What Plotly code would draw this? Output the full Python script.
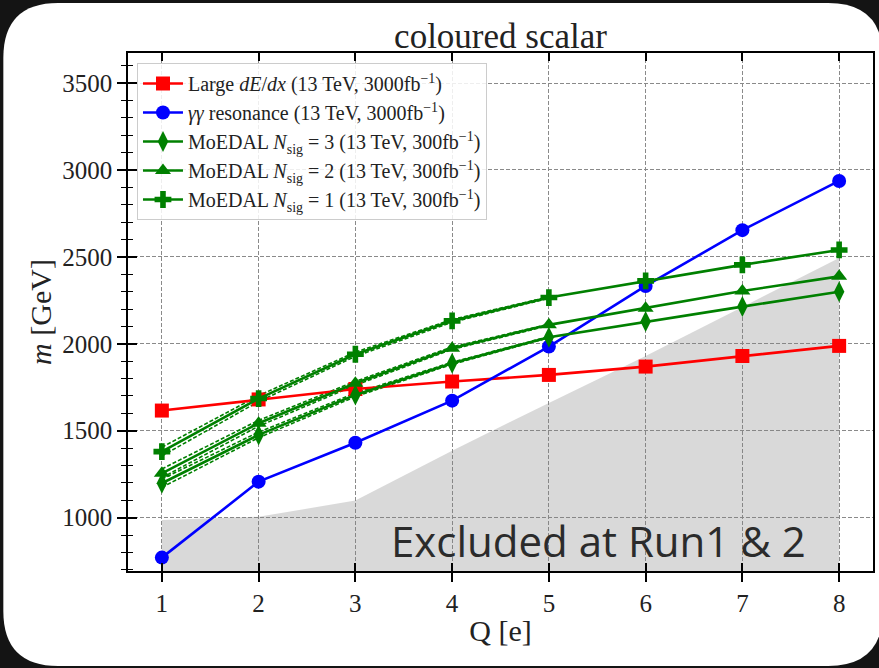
import plotly.graph_objects as go

# ---- data ----
Q = [1, 2, 3, 4, 5, 6, 7, 8]
large_dedx = [1616, 1680, 1740, 1783, 1821, 1869, 1930, 1988]
gg_res = [770, 1207, 1431, 1673, 1984, 2333, 2654, 2937]
nsig3 = [1198, 1476, 1706, 1888, 2038, 2128, 2214, 2300]
nsig2 = [1255, 1543, 1773, 1975, 2109, 2205, 2304, 2388]
nsig1 = [1380, 1685, 1940, 2132, 2266, 2362, 2454, 2540]

band_Q = [1, 2, 3, 4, 5]
nsig3_hi = [1222, 1492, 1716, 1894, 2041]
nsig3_lo = [1174, 1460, 1696, 1882, 2035]
nsig2_hi = [1280, 1560, 1784, 1982, 2113]
nsig2_lo = [1230, 1526, 1762, 1968, 2105]
nsig1_hi = [1405, 1702, 1952, 2140, 2270]
nsig1_lo = [1355, 1668, 1928, 2124, 2262]

excl_Q = [1, 2, 3, 4, 5, 6, 7, 8]
excl_m = [987, 1005, 1098, 1385, 1660, 1930, 2212, 2494]

x_ticks = [1, 2, 3, 4, 5, 6, 7, 8]
y_ticks = [1000, 1500, 2000, 2500, 3000, 3500]

names = [
    "Large <i>dE</i>/<i>dx</i> (13 TeV, 3000fb<sup>−1</sup>)",
    "<i>γγ</i> resonance (13 TeV, 3000fb<sup>−1</sup>)",
    "MoEDAL <i>N</i><sub>sig</sub> = 3 (13 TeV, 300fb<sup>−1</sup>)",
    "MoEDAL <i>N</i><sub>sig</sub> = 2 (13 TeV, 300fb<sup>−1</sup>)",
    "MoEDAL <i>N</i><sub>sig</sub> = 1 (13 TeV, 300fb<sup>−1</sup>)",
]

RED, BLUE, GREEN = "#ff0000", "#0000ff", "#008000"
SERIF = "Liberation Serif, Times New Roman, serif"

# ---- layout geometry (pixels) ----
W, H = 879, 668
L, R, T, B = 128, 4, 53, 97
PW, PH = W - L - R, H - T - B
XR = [0.65, 8.35]
YR = [693, 3673]

fig = go.Figure()

# excluded region
fig.add_trace(go.Scatter(x=excl_Q, y=excl_m, mode="lines", fill="tozeroy",
                         line=dict(width=0, color="rgba(0,0,0,0)"),
                         fillcolor="rgba(128,128,128,0.30)",
                         showlegend=False, hoverinfo="skip"))

# green uncertainty bands (dashed edges)
for hi, lo in [(nsig3_hi, nsig3_lo), (nsig2_hi, nsig2_lo), (nsig1_hi, nsig1_lo)]:
    for arr in (hi, lo):
        fig.add_trace(go.Scatter(x=band_Q, y=arr, mode="lines",
                                 line=dict(color=GREEN, width=1.6, dash="4px,2px"),
                                 showlegend=False, hoverinfo="skip"))

series = [
    (large_dedx, RED, "square", 14),
    (gg_res, BLUE, "circle", 14),
    (nsig3, GREEN, "diamond-tall", 15),
    (nsig2, GREEN, "triangle-up", 14),
    (nsig1, GREEN, "cross", 14),
]
for i, (vals, col, sym, sz) in enumerate(series):
    fig.add_trace(go.Scatter(x=Q, y=vals, mode="lines+markers", name=names[i],
                             legendgroup=f"g{i}",
                             line=dict(color=col, width=2.6),
                             marker=dict(symbol=sym, size=sz, color=col,
                                         line=dict(width=0))))

# dummy trace for the inward-tick overlay axes
fig.add_trace(go.Scatter(x=[], y=[], xaxis="x2", yaxis="y2", showlegend=False))

def px(xp):
    return (xp - L) / PW

def py(yp):
    return (H - B - yp) / PH

# white rounded card behind everything
cx0, cy0, cx1, cy1, rr = 3, 3, 885, 666, 55
path = (f"M{px(cx0 + rr)},{py(cy0)} L{px(cx1 - rr)},{py(cy0)} "
        f"Q{px(cx1)},{py(cy0)} {px(cx1)},{py(cy0 + rr)} "
        f"L{px(cx1)},{py(cy1 - rr)} Q{px(cx1)},{py(cy1)} {px(cx1 - rr)},{py(cy1)} "
        f"L{px(cx0 + rr)},{py(cy1)} Q{px(cx0)},{py(cy1)} {px(cx0)},{py(cy1 - rr)} "
        f"L{px(cx0)},{py(cy0 + rr)} Q{px(cx0)},{py(cy0)} {px(cx0 + rr)},{py(cy0)} Z")
fig.add_shape(type="path", path=path, xref="paper", yref="paper",
              fillcolor="white", line=dict(width=0), layer="below")

grid = dict(showgrid=True, gridcolor="#8a8a8a", gridwidth=1.2, griddash="4px,2px")
tickfont = dict(family=SERIF, size=25, color="#222")

fig.update_layout(
    width=W, height=H,
    margin=dict(l=L, r=R, t=T, b=B),
    paper_bgcolor="#141414",
    plot_bgcolor="white",
    title=dict(text="coloured scalar", x=0.5, xref="paper", xanchor="center",
               y=1 - 36 / H, yref="container", yanchor="middle",
               font=dict(family=SERIF, size=35, color="#222")),
    xaxis=dict(range=XR, tickvals=x_ticks, ticks="outside", ticklen=9, tickwidth=1.5,
               tickcolor="black", showline=True, linecolor="black", linewidth=1.5,
               mirror=True, zeroline=False, tickfont=tickfont,
               title=dict(text="Q [e]", font=dict(family=SERIF, size=30, color="#222"),
                          standoff=4),
               **grid),
    yaxis=dict(range=YR, tickvals=y_ticks, ticks="outside", ticklen=9, tickwidth=1.5,
               tickcolor="black", showline=True, linecolor="black", linewidth=1.5,
               mirror=True, zeroline=False, tickfont=tickfont,
               minor=dict(ticks="outside", dtick=100, tick0=0, ticklen=5, tickwidth=1.3,
                          tickcolor="black", showgrid=False),
               title=dict(text="<i>m</i> [GeV]", font=dict(family=SERIF, size=30, color="#222"),
                          standoff=2),
               **grid),
    xaxis2=dict(range=XR, overlaying="x", anchor="y", side="bottom", tickvals=x_ticks,
                ticks="inside", ticklen=8, tickwidth=1.5, tickcolor="black",
                mirror="ticks", showline=True, linecolor="black", linewidth=1.5,
                showticklabels=False, showgrid=False, zeroline=False),
    yaxis2=dict(range=YR, overlaying="y", anchor="x", side="left", tickvals=y_ticks,
                ticks="inside", ticklen=9, tickwidth=1.5, tickcolor="black",
                minor=dict(ticks="inside", dtick=100, tick0=0, ticklen=5, tickwidth=1.3,
                           tickcolor="black", showgrid=False),
                showticklabels=False, showgrid=False, zeroline=False, showline=False),
    legend=dict(x=px(137), y=py(63), xanchor="left", yanchor="top",
                bgcolor="rgba(255,255,255,0.85)", bordercolor="#cccccc", borderwidth=1,
                font=dict(family=SERIF, size=20, color="#222"),
                tracegroupgap=0, itemwidth=40),
    annotations=[dict(text="Excluded at Run1 & 2", x=px(600), y=py(540),
                      xref="paper", yref="paper", xanchor="center", yanchor="middle",
                      showarrow=False,
                      font=dict(family="Open Sans, Noto Sans, sans-serif", size=42,
                                color="#2b2b2b"))],
    showlegend=True,
)

fig.write_html("out.html")
